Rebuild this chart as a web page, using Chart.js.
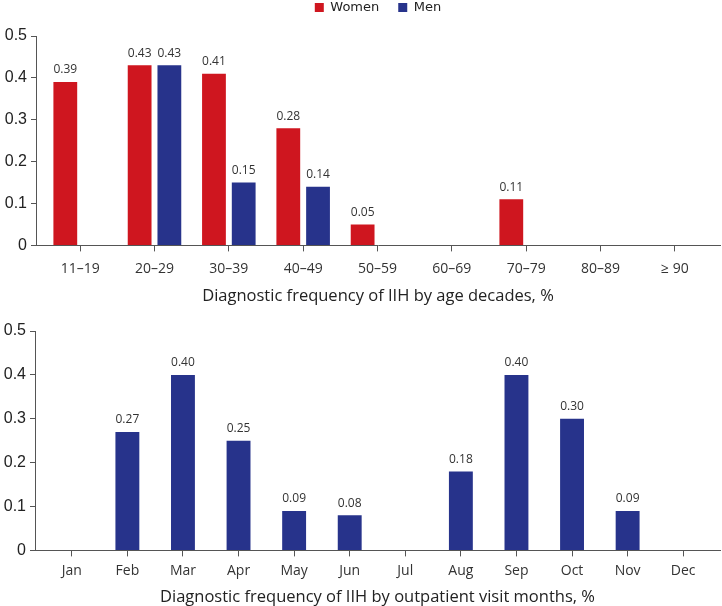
<!DOCTYPE html>
<html><head><meta charset="utf-8">
<script src="https://cdn.jsdelivr.net/npm/chart.js@4/dist/chart.umd.min.js"></script>
<style>
html,body{margin:0;padding:0;background:#fff;}
#w1{position:absolute;left:0;top:0;width:722px;height:306px;}
#w2{position:absolute;left:0;top:306px;width:722px;height:300px;}
</style></head><body>
<div id="w1"><canvas id="c1"></canvas></div>
<div id="w2"><canvas id="c2"></canvas></div>
<script>
const ageCategories = ['11\u201319','20\u201329','30\u201339','40\u201349','50\u201359','60\u201369','70\u201379','80\u201389','\u2265 90'];
const womenValues = [0.39,0.43,0.41,0.28,0.05,null,0.11,null,null];
const menValues = [null,0.43,0.15,0.14,null,null,null,null,null];
const monthCategories = ['Jan','Feb','Mar','Apr','May','Jun','Jul','Aug','Sep','Oct','Nov','Dec'];
const monthValues = [null,0.27,0.40,0.25,0.09,0.08,null,0.18,0.40,0.30,0.09,null];
const yTicks = [0,0.1,0.2,0.3,0.4,0.5];

const RED = '#CF161F', BLUE = '#27338B';
const labelFont = "'Open Sans','Noto Sans',sans-serif";

const valueLabels = {
  id:'valueLabels',
  afterDatasetsDraw(chart){
    const ctx = chart.ctx;
    ctx.save();
    ctx.font = "12px " + labelFont;
    ctx.fillStyle = '#333';
    ctx.textAlign = 'center';
    ctx.textBaseline = 'bottom';
    chart.data.datasets.forEach((ds,i)=>{
      const meta = chart.getDatasetMeta(i);
      meta.data.forEach((el,j)=>{
        const v = ds.data[j];
        if (v === null || v === undefined) return;
        ctx.fillText(v.toFixed(2), el.x, el.y - 6);
      });
    });
    ctx.restore();
  }
};

// inset the category band inside the x axis (axis line spans wider than the categories)
const xInset = {
  id:'xInset',
  afterLayout(chart, args, opts){
    const s = chart.scales.x;
    s._startPixel = s.left + opts.left;
    s._endPixel = s.right - opts.right;
    s._length = s._endPixel - s._startPixel;
  }
};

// extra space between legend and plot area; legend centred over the plot area
const legendGap = {
  id:'legendGap',
  beforeInit(chart){
    const lg = chart.legend;
    if (!lg) return;
    const orig = lg.fit;
    lg.fit = function(){ orig.call(this); this.height += 12; };
  },
  afterLayout(chart){
    const lg = chart.legend;
    if (lg) { lg.left = chart.chartArea.left; }
  }
};

function makeOptions(cfg){
  return {
    responsive:true, maintainAspectRatio:false, animation:false,
    layout:{padding:{left:0,right:2,top:cfg.topPad,bottom:cfg.bottomPad}},
    plugins:{
      legend:{display:cfg.legend, position:'top',
        labels:{boxWidth:9, boxHeight:9, padding:19, color:'#222',
          font:{size:13, family:"'DejaVu Sans','Noto Sans',sans-serif"}}},
      tooltip:{enabled:false},
      xInset:{left:cfg.insetL, right:cfg.insetR}
    },
    scales:{
      x:{
        grid:{display:true, drawOnChartArea:false, offset:false, tickLength:6, color:'#555', lineWidth:1},
        border:{display:true, color:'#555', width:1},
        ticks:{color:'#333', padding:cfg.tickPad, font:{size:14, family:labelFont}},
        title:{display:true, text:cfg.title, color:'#222', padding:{top:cfg.titlePad,bottom:0},
          font:{size:16.5, family:labelFont}}
      },
      y:{
        min:0, max:0.5,
        afterBuildTicks(scale){ scale.ticks = yTicks.map(v=>({value:v})); },
        afterFit(scale){ scale.width = cfg.yWidth; },
        grid:{display:true, drawOnChartArea:false, tickLength:5, color:'#555'},
        border:{display:true, color:'#555', width:1},
        ticks:{color:'#222', padding:4, font:{size:16, family:"'Liberation Sans',Arial,sans-serif"},
          callback:(v)=> v===0 ? '0' : v.toFixed(1)}
      }
    }
  };
}

new Chart(document.getElementById('c1'), {
  type:'bar',
  data:{labels:ageCategories, datasets:[
    {label:'Women', data:womenValues, backgroundColor:RED, categoryPercentage:0.8, barPercentage:0.8},
    {label:'Men', data:menValues, backgroundColor:BLUE, categoryPercentage:0.8, barPercentage:0.8}
  ]},
  options:makeOptions({title:'Diagnostic frequency of IIH by age decades, %', legend:true,
    topPad:-18, bottomPad:0, tickPad:9, titlePad:0, yWidth:36, insetL:7, insetR:8}),
  plugins:[valueLabels, xInset, legendGap]
});

new Chart(document.getElementById('c2'), {
  type:'bar',
  data:{labels:monthCategories, datasets:[
    {label:'Visits', data:monthValues, backgroundColor:BLUE, categoryPercentage:0.86, barPercentage:0.5}
  ]},
  options:makeOptions({title:'Diagnostic frequency of IIH by outpatient visit months, %', legend:false,
    topPad:25, bottomPad:-1, tickPad:6, titlePad:2, yWidth:35, insetL:9, insetR:9}),
  plugins:[valueLabels, xInset]
});
</script>
</body></html>
